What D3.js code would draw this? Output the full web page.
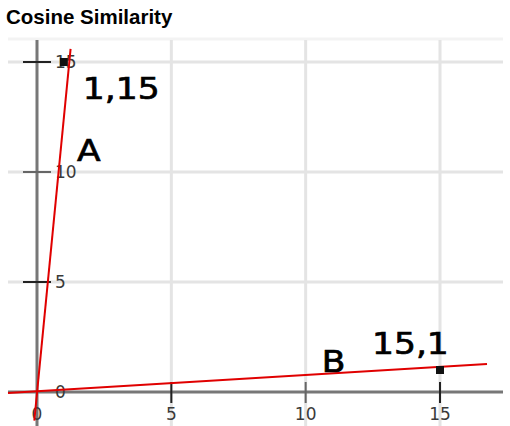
<!DOCTYPE html>
<html>
<head>
<meta charset="utf-8">
<script src="https://cdn.jsdelivr.net/npm/d3@7"></script>
<style>
  body { margin: 0; background: #fff; }
  svg { display: block; }
</style>
</head>
<body>
<svg id="chart" width="510" height="426"></svg>
<script>
// values
const ticks = [0, 5, 10, 15];
const points = [
  { name: 'A', x: 1, y: 15, label: '1,15' },
  { name: 'B', x: 15, y: 1, label: '15,1' }
];
// the red rays, as drawn (they run a little past the points)
const rayA = [[-0.1, -1.3], [1.25, 15.6]];
const rayB = [[-1.08, -0.05], [16.75, 1.27]];
// where the letters A / B sit
const rayLabels = [
  { text: 'A', x: 1.49, y: 10.5 },
  { text: 'B', x: 10.6, y: 0.9 }
];

const svg = d3.select('#chart');

const x = d3.scaleLinear().domain([0, 15]).range([37, 440]);
const y = d3.scaleLinear().domain([0, 15]).range([392, 62]);

const plotLeft = 8, plotRight = 503, plotTop = 40, plotBottom = 426;

svg.append('text')
  .attr('x', 6).attr('y', 24)
  .style('font-family', '"Liberation Sans", Arial, sans-serif')
  .style('font-weight', 'bold')
  .style('font-size', '20.5px')
  .text('Cosine Similarity');

// faint top edge
svg.append('line')
  .attr('x1', plotLeft).attr('x2', plotRight)
  .attr('y1', plotTop - 1).attr('y2', plotTop - 1)
  .attr('stroke', '#f3f3f3').attr('stroke-width', 3);

const grid = svg.append('g').attr('stroke', '#e4e4e4').attr('stroke-width', 3);
grid.selectAll('.gx').data(ticks.filter(d => d > 0)).join('line')
  .attr('class', 'gx')
  .attr('x1', d => x(d)).attr('x2', d => x(d))
  .attr('y1', plotTop).attr('y2', plotBottom);
grid.selectAll('.gy').data(ticks.filter(d => d > 0)).join('line')
  .attr('class', 'gy')
  .attr('x1', plotLeft).attr('x2', plotRight)
  .attr('y1', d => y(d)).attr('y2', d => y(d));

// axes
svg.append('line')
  .attr('x1', x(0)).attr('x2', x(0)).attr('y1', plotTop).attr('y2', plotBottom)
  .attr('stroke', '#777').attr('stroke-width', 3);
svg.append('line')
  .attr('x1', plotLeft).attr('x2', plotRight).attr('y1', y(0)).attr('y2', y(0))
  .attr('stroke', '#777').attr('stroke-width', 3);

// tick marks
const tk = svg.append('g').attr('stroke-width', 2);
tk.selectAll('.ty').data(ticks.filter(d => d > 0)).join('line')
  .attr('class', 'ty')
  .attr('x1', x(0) - 14).attr('x2', x(0) + 14)
  .attr('y1', d => y(d)).attr('y2', d => y(d))
  .attr('stroke', d => d === 10 ? '#666' : '#222');
tk.selectAll('.tx').data(ticks.filter(d => d > 0)).join('line')
  .attr('class', 'tx')
  .attr('x1', d => x(d)).attr('x2', d => x(d))
  .attr('y1', y(0) - 10).attr('y2', y(0) + 11)
  .attr('stroke', d => d === 10 ? '#666' : '#222');

const tickFont = g => g
  .style('font-family', '"DejaVu Sans", sans-serif')
  .style('font-size', '17px')
  .attr('fill', '#3a3a3a');

svg.append('g').call(tickFont)
  .selectAll('text').data(ticks).join('text')
  .attr('x', x(0) + 18)
  .attr('y', d => y(d))
  .attr('dy', '0.36em')
  .text(d => d);

svg.append('g').call(tickFont)
  .attr('text-anchor', 'middle')
  .selectAll('text').data(ticks).join('text')
  .attr('x', d => x(d))
  .attr('y', 420)
  .text(d => d);

// rays
const line = d3.line().x(d => x(d[0])).y(d => y(d[1]));
svg.selectAll('.ray').data([rayA, rayB]).join('path')
  .attr('class', 'ray')
  .attr('d', line)
  .attr('fill', 'none')
  .attr('stroke', '#e00000')
  .attr('stroke-width', 2);

// points
svg.selectAll('.pt').data(points).join('rect')
  .attr('class', 'pt')
  .attr('x', d => x(d.x) - 4).attr('y', d => y(d.y) - 4)
  .attr('width', 8).attr('height', 8)
  .attr('fill', '#111');

const bigText = sel => sel
  .style('font-family', '"DejaVu Sans", sans-serif')
  .style('font-size', '30px')
  .attr('fill', '#000')
  .attr('stroke', '#000')
  .attr('stroke-width', 0.7);

// coordinate labels
svg.selectAll('.plab').data(points).join('text')
  .attr('class', 'plab')
  .call(bigText)
  .attr('transform', d => d.name === 'A'
    ? `translate(${x(d.x) + 19},${y(d.y) + 37}) scale(1.15,1)`
    : `translate(${x(d.x) - 68},${y(d.y) - 16}) scale(1.15,1)`)
  .text(d => d.label);

svg.selectAll('.rlab').data(rayLabels).join('text')
  .attr('class', 'rlab')
  .call(bigText)
  .attr('transform', d => `translate(${x(d.x)},${y(d.y)}) scale(1.15,1)`)
  .text(d => d.text);
</script>
</body>
</html>
